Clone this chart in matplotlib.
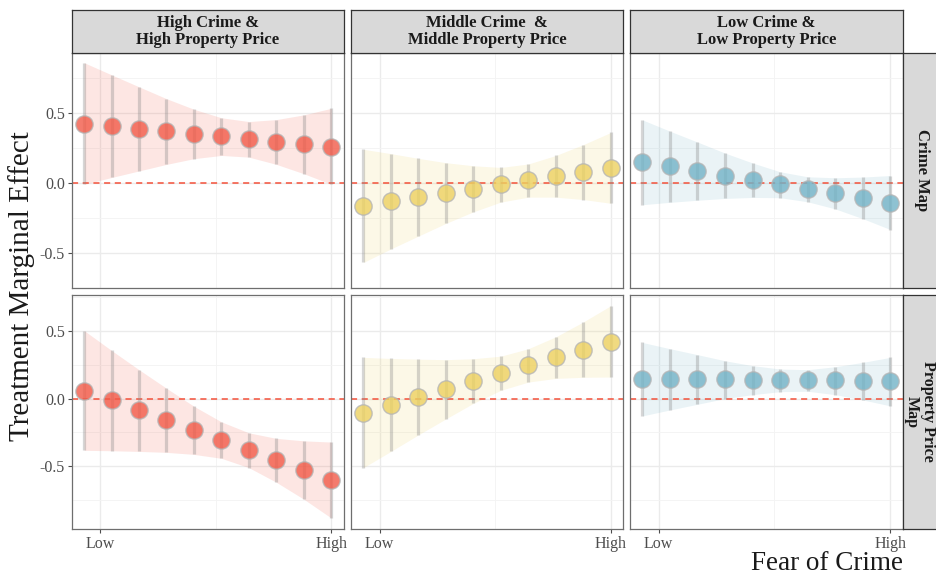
import numpy as np
import matplotlib.pyplot as plt

# fear of crime grid (10 evaluation points) and the two labelled ends
fear = np.arange(10)
fear_ticks = [0.59, 9.0]
fear_labels = ['Low', 'High']

groups = ['High Crime &\nHigh Property Price',
          'Middle Crime  &\nMiddle Property Price',
          'Low Crime &\nLow Property Price']
treatments = ['Crime Map', 'Property Price\nMap']
group_colors = ['#F25A48', '#EDD160', '#72B3C7']

# marginal effects and 95% bounds, rows = treatment, cols = neighbourhood group
crime_high_est = [0.426, 0.408, 0.390, 0.370, 0.352, 0.334, 0.314, 0.296, 0.279, 0.258]
crime_high_lo = [-0.009, 0.040, 0.087, 0.134, 0.175, 0.198, 0.186, 0.134, 0.067, -0.009]
crime_high_hi = [0.863, 0.776, 0.690, 0.605, 0.529, 0.468, 0.441, 0.455, 0.489, 0.536]

crime_mid_est = [-0.161, -0.132, -0.101, -0.071, -0.040, -0.009, 0.023, 0.052, 0.081, 0.110]
crime_mid_lo = [-0.569, -0.472, -0.380, -0.289, -0.206, -0.136, -0.101, -0.101, -0.118, -0.145]
crime_mid_hi = [0.242, 0.211, 0.177, 0.146, 0.124, 0.112, 0.137, 0.198, 0.276, 0.363]

crime_low_est = [0.151, 0.119, 0.087, 0.054, 0.023, -0.009, -0.042, -0.074, -0.108, -0.141]
crime_low_lo = [-0.155, -0.138, -0.123, -0.110, -0.103, -0.105, -0.134, -0.185, -0.255, -0.333]
crime_low_hi = [0.453, 0.372, 0.294, 0.215, 0.144, 0.081, 0.045, 0.038, 0.043, 0.054]

price_high_est = [0.059, -0.013, -0.086, -0.160, -0.233, -0.307, -0.382, -0.454, -0.527, -0.601]
price_high_lo = [-0.382, -0.385, -0.390, -0.397, -0.412, -0.441, -0.510, -0.618, -0.743, -0.882]
price_high_hi = [0.502, 0.355, 0.213, 0.076, -0.057, -0.172, -0.253, -0.294, -0.312, -0.321]

price_mid_est = [-0.103, -0.044, 0.015, 0.071, 0.129, 0.186, 0.247, 0.304, 0.360, 0.419]
price_mid_lo = [-0.510, -0.390, -0.268, -0.150, -0.035, 0.061, 0.122, 0.149, 0.157, 0.159]
price_mid_hi = [0.304, 0.296, 0.291, 0.287, 0.294, 0.313, 0.368, 0.456, 0.566, 0.686]

price_low_est = [0.142, 0.142, 0.142, 0.142, 0.140, 0.140, 0.137, 0.135, 0.132, 0.127]
price_low_lo = [-0.128, -0.084, -0.042, 0.000, 0.029, 0.051, 0.054, 0.029, -0.010, -0.054]
price_low_hi = [0.414, 0.368, 0.324, 0.279, 0.243, 0.218, 0.213, 0.235, 0.267, 0.304]

panels = [
    [(crime_high_est, crime_high_lo, crime_high_hi),
     (crime_mid_est, crime_mid_lo, crime_mid_hi),
     (crime_low_est, crime_low_lo, crime_low_hi)],
    [(price_high_est, price_high_lo, price_high_hi),
     (price_mid_est, price_mid_lo, price_mid_hi),
     (price_low_est, price_low_lo, price_low_hi)],
]

plt.rcParams['font.family'] = ['Liberation Serif', 'DejaVu Serif']

W, H = 936, 577
fig = plt.figure(figsize=(W / 100, H / 100), dpi=100)


def box(x0, y0, x1, y1):
    return [x0 / W, 1 - y1 / H, (x1 - x0) / W, (y1 - y0) / H]


def strip(rect, label, rot=0, tx=0.5, size=12, spacing=1.1):
    s = fig.add_axes(box(*rect))
    s.set_facecolor('#D9D9D9')
    s.set_xticks([])
    s.set_yticks([])
    for sp in s.spines.values():
        sp.set_color('#333333')
        sp.set_linewidth(0.9)
    s.text(tx, 0.5, label, ha='center', va='center', fontsize=size,
           fontweight='bold', color='#1A1A1A', rotation=rot,
           linespacing=spacing, transform=s.transAxes)


cols = [(71.7, 343.7), (351, 623.3), (630, 902.7)]
rows = [(52.7, 287.7), (295, 528.7)]

for r, (y0, y1) in enumerate(rows):
    # free y scale per row, 5% expansion around the bounds
    lo_all = min(min(p[1]) for p in panels[r])
    hi_all = max(max(p[2]) for p in panels[r])
    pad = 0.05 * (hi_all - lo_all)
    ylim = (lo_all - pad, hi_all + pad)

    for c, (x0, x1) in enumerate(cols):
        est, lo, hi = panels[r][c]
        col = group_colors[c]
        ax = fig.add_axes(box(x0, y0, x1, y1))
        ax.set_xlim(-0.45, 9.45)
        ax.set_ylim(*ylim)

        ax.set_yticks([-0.5, 0.0, 0.5])
        ax.set_yticks([-0.75, -0.25, 0.25, 0.75], minor=True)
        ax.set_xticks(fear_ticks)
        ax.set_xticks([np.mean(fear_ticks)], minor=True)
        ax.grid(True, which='major', color='#EBEBEB', lw=1.0, zorder=0)
        ax.grid(True, which='minor', color='#F3F3F3', lw=0.6, zorder=0)
        ax.set_axisbelow(True)

        ax.fill_between(fear, lo, hi, color=col, alpha=0.15, lw=0, zorder=1)
        ax.axhline(0, color='#F4513A', lw=1.1, ls=(0, (4, 3)), zorder=2)
        ax.vlines(fear, lo, hi, color='#8A8A8A', alpha=0.35, lw=2.3, zorder=3)
        ax.scatter(fear, est, s=155, color=col, alpha=0.8,
                   edgecolors='#B5B5B5', linewidths=1.0, zorder=4)

        for sp in ax.spines.values():
            sp.set_color('#6E6E6E')
            sp.set_linewidth(0.9)

        ax.tick_params(which='minor', length=0)
        ax.tick_params(which='major', colors='#4D4D4D', labelsize=11.5,
                       length=3, width=0.8, pad=2)
        if c == 0:
            ax.set_yticklabels(['-0.5', '0.0', '0.5'])
        else:
            ax.tick_params(axis='y', length=0, labelleft=False)
        if r == len(rows) - 1:
            ax.set_xticklabels(fear_labels)
        else:
            ax.tick_params(axis='x', length=0, labelbottom=False)

for c, (x0, x1) in enumerate(cols):
    strip((x0, 10, x1, 52.7), groups[c])

# right-hand strips run past the figure edge
strip((902.7, rows[0][0], 945, rows[0][1]), treatments[0], rot=270, tx=0.45)
strip((902.7, rows[1][0], 945, rows[1][1]), treatments[1], rot=270, tx=0.4,
      size=11.5, spacing=1.0)

fig.text(22 / W, 1 - 286 / H, 'Treatment Marginal Effect', rotation=90,
         ha='center', va='center', fontsize=21, color='#1A1A1A')
fig.text(902.7 / W, 1 - 576.5 / H, 'Fear of Crime', ha='right', va='bottom',
         fontsize=19.5, color='#1A1A1A')

fig.savefig('out.png', dpi=100)
